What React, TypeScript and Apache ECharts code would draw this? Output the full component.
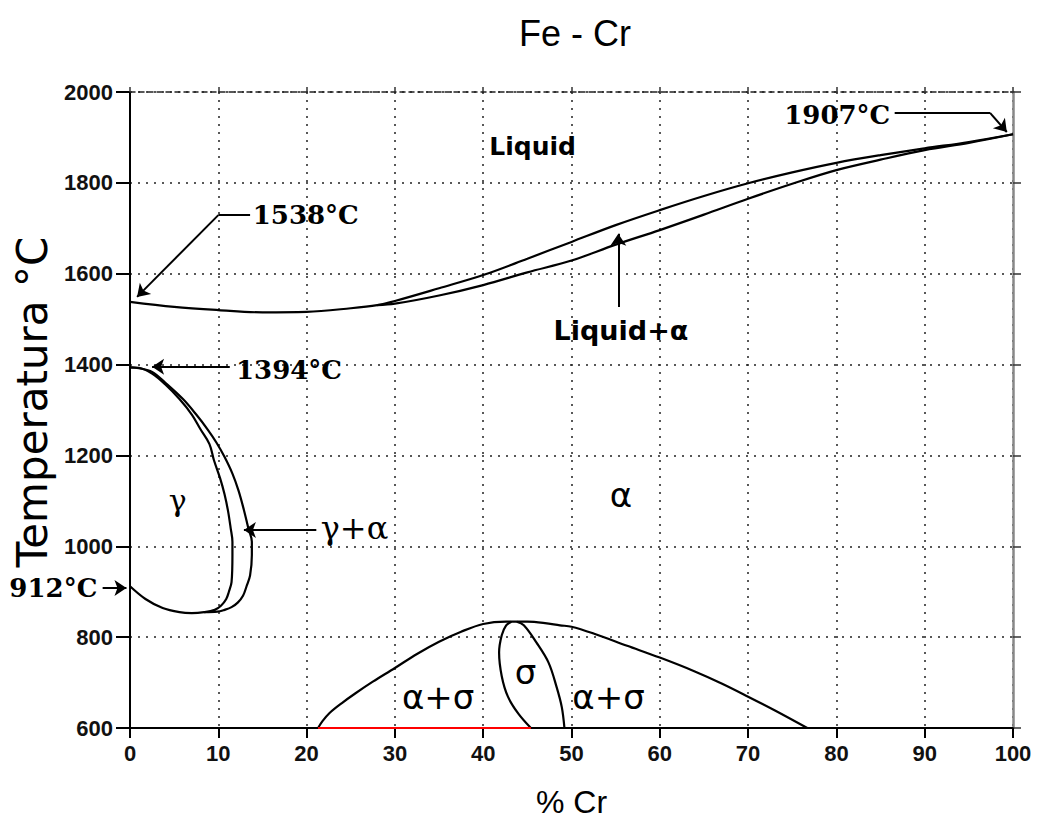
import React, { useEffect, useRef } from "react";
import * as echarts from "echarts";

// ---- axis ticks ----
const xTicks = { min: 0, max: 100, interval: 10 };
const yTicks = { min: 600, max: 2000, interval: 200 };

// ---- liquidus (upper) ----
const liquidusX = [0, 5, 10, 15, 20, 25, 28, 30, 35, 40, 45, 50, 55, 60, 65, 70, 75, 80, 85, 90, 95, 100];
const liquidusT = [1538, 1527, 1520, 1515, 1516, 1524, 1531, 1540, 1568, 1597, 1633, 1670, 1707, 1740, 1771, 1799, 1823, 1844, 1861, 1876, 1890, 1907];

// ---- solidus (lower) ----
const solidusX = [28, 30, 35, 40, 45, 50, 55, 60, 65, 70, 75, 80, 85, 90, 95, 100];
const solidusT = [1531, 1534, 1552, 1575, 1603, 1629, 1664, 1696, 1730, 1765, 1798, 1828, 1851, 1872, 1888, 1907];

// ---- gamma loop: inner boundary (gamma / gamma+alpha) incl. lower branch ----
const gammaInnerX = [0, 1, 2.5, 4, 5.6, 7, 8, 9, 9.5, 10.2, 10.7, 11.1, 11.4, 11.6, 11.6, 11.5, 11.2, 10.9, 10.3, 9.6, 8.4, 7, 5.6, 3.7, 1.75, 0];
const gammaInnerT = [1394, 1393, 1380, 1356, 1324, 1290, 1257, 1225, 1190, 1150, 1115, 1078, 1040, 1010, 981, 921, 900, 884, 869, 860, 855, 853, 855, 864, 884, 912];

// ---- gamma loop: outer boundary (gamma+alpha / alpha) ----
const gammaOuterX = [0, 1, 2.5, 4, 6, 7.5, 8.8, 9.8, 10.7, 11.6, 12.3, 12.9, 13.4, 13.8, 13.8, 13.6, 13.2, 12.8, 12.2, 11.5, 10.7, 9.9, 8.4];
const gammaOuterT = [1394, 1392, 1384, 1360, 1324, 1290, 1257, 1228, 1197, 1160, 1122, 1080, 1040, 1010, 981, 936, 912, 891, 876, 866, 860, 856, 855];

// ---- sigma dome ----
const domeX = [21.3, 21.8, 22.6, 24, 25.5, 27.5, 30, 32.5, 35, 37.5, 40, 42.6, 45, 47, 48.7, 50, 52.5, 56.3, 60, 63.9, 67, 70, 73.1, 76.7];
const domeT = [600, 615, 633, 655, 676, 702, 732, 763, 790, 812, 829, 834, 834, 831, 826, 823, 808, 781, 755, 725, 698, 669, 638, 600];

const sigmaLeftX = [43.2, 42.6, 42.1, 41.8, 42.1, 42.8, 44.0, 45.4];
const sigmaLeftT = [834, 826, 804, 766, 714, 669, 631, 600];
const sigmaRightX = [43.8, 44.6, 46.0, 47.4, 48.3, 48.9, 49.2];
const sigmaRightT = [834, 826, 789, 744, 691, 646, 600];

// ---- red base line ----
const redLineX = [21.3, 45.4];
const redLineT = [600, 600];

// ---- annotation arrows (start -> tip) ----
const arrowStarts = [[10.0, 1729], [11.3, 1395], [-3.1, 908], [21.1, 1036], [97.4, 1954], [55.3, 1527]];
const arrowTips = [[0.8, 1549], [2.5, 1395], [-0.4, 908], [12.9, 1036], [99.3, 1912], [55.3, 1688]];
// leader segments without arrowheads
const leaderStarts = [[13.6, 1729], [86.6, 1954]];
const leaderEnds = [[10.0, 1729], [97.4, 1954]];

// ---- texts ----
const tempTexts = ["1538°C", "1394°C", "912°C", "1907°C"];
const tempPos = [[13.9, 1729], [12.0, 1389], [-3.7, 908], [86.1, 1950]];
const tempAlign = ["left", "left", "right", "right"];

const phaseTexts = ["Liquid", "Liquid+α", "γ", "γ+α", "α", "α+σ", "σ", "α+σ"];
const phasePos = [[45.6, 1879], [55.6, 1476], [5.4, 1100], [21.6, 1040], [55.6, 1113], [34.9, 668], [44.8, 724], [54.2, 668]];

const toPairs = (xs: number[], ys: number[]) => xs.map((x, i) => [x, ys[i]]);

const curve = (name: string, xs: number[], ys: number[], color = "#000", smooth: number | boolean = 0.35) => ({
  name,
  type: "line",
  data: toPairs(xs, ys),
  smooth,
  showSymbol: false,
  symbol: "none",
  lineStyle: { color, width: 2.2 },
  silent: true,
  z: 5,
});

export default function App() {
  const ref = useRef<HTMLDivElement>(null);

  useEffect(() => {
    document.body.style.margin = "0";
    if (!ref.current) return;
    const chart = echarts.init(ref.current, undefined, { renderer: "svg" });

    const serifBold = { fontFamily: "DejaVu Serif", fontWeight: "bold", fontSize: 26, color: "#000" };

    const phaseStyles: any[] = [
      { fontFamily: "DejaVu Sans", fontWeight: "bold", fontSize: 25 },
      { fontFamily: "DejaVu Sans", fontWeight: "bold", fontSize: 27 },
      { fontFamily: "DejaVu Serif", fontWeight: "normal", fontSize: 30 },
      { fontFamily: "DejaVu Serif", fontWeight: "normal", fontSize: 32 },
      { fontFamily: "DejaVu Sans", fontWeight: "normal", fontSize: 34 },
      { fontFamily: "DejaVu Sans", fontWeight: "normal", fontSize: 34 },
      { fontFamily: "DejaVu Sans", fontWeight: "normal", fontSize: 34 },
      { fontFamily: "DejaVu Sans", fontWeight: "normal", fontSize: 34 },
    ];

    const textData: any[] = [];
    tempTexts.forEach((t, i) => {
      textData.push({
        value: tempPos[i],
        label: { show: true, position: [0, 0], formatter: t, align: tempAlign[i], verticalAlign: "middle", textBorderWidth: 0, opacity: 1, ...serifBold },
      });
    });
    phaseTexts.forEach((t, i) => {
      textData.push({
        value: phasePos[i],
        label: {
          show: true,
          position: [0, 0],
          formatter: t,
          align: i === 3 ? "left" : "center",
          verticalAlign: "middle",
          color: "#000",
          opacity: 1,
          textBorderWidth: 0,
          ...phaseStyles[i],
        },
      });
    });

    const option: any = {
      animation: false,
      backgroundColor: "#fff",
      title: {
        text: "Fe - Cr",
        left: 514,
        top: 10,
        textStyle: { fontFamily: "Liberation Sans", fontWeight: "normal", fontSize: 36, color: "#000" },
      },
      grid: { left: 130, right: 30, top: 92, bottom: 102, containLabel: false },
      xAxis: [
        {
          type: "value",
          min: xTicks.min,
          max: xTicks.max,
          interval: xTicks.interval,
          name: "% Cr",
          nameLocation: "middle",
          nameGap: 58,
          nameTextStyle: { fontFamily: "Liberation Sans", fontSize: 32, color: "#000" },
          axisLine: { show: true, onZero: false, lineStyle: { color: "#000", width: 2 } },
          axisTick: { show: true, inside: false, length: 10, lineStyle: { color: "#000", width: 2 } },
          axisLabel: { margin: 14, fontFamily: "Liberation Sans", fontWeight: "bold", fontSize: 22, color: "#111", formatter: (v: number) => String(v) },
          splitLine: { show: true, lineStyle: { color: "#222", type: [2, 6], width: 1.5 } },
        },
        {
          type: "value",
          position: "top",
          min: xTicks.min,
          max: xTicks.max,
          interval: xTicks.interval,
          axisLine: { show: true, onZero: false, lineStyle: { color: "#222", width: 1.5, type: [5, 4] } },
          axisTick: { show: true, inside: false, length: 5, lineStyle: { color: "#333", width: 1.5 } },
          axisLabel: { show: false },
          splitLine: { show: false },
        },
      ],
      yAxis: [
        {
          type: "value",
          min: yTicks.min,
          max: yTicks.max,
          interval: yTicks.interval,
          name: "Temperatura °C",
          nameLocation: "middle",
          nameRotate: 90,
          nameGap: 75,
          nameTextStyle: { fontFamily: "DejaVu Sans", fontSize: 42, color: "#000", padding: [0, 0, 0, 16] },
          axisLine: { show: true, onZero: false, lineStyle: { color: "#000", width: 2 } },
          axisTick: { show: true, inside: false, length: 14, lineStyle: { color: "#000", width: 2 } },
          axisLabel: { margin: 17, fontFamily: "Liberation Sans", fontWeight: "bold", fontSize: 22, color: "#111", formatter: (v: number) => String(v) },
          splitLine: { show: true, lineStyle: { color: "#222", type: [2, 6], width: 1.5 } },
        },
        {
          type: "value",
          position: "right",
          min: yTicks.min,
          max: yTicks.max,
          interval: yTicks.interval,
          axisLine: { show: true, onZero: false, lineStyle: { color: "#888", width: 2.5 } },
          axisTick: { show: true, inside: false, length: 8, lineStyle: { color: "#333", width: 1.5 } },
          axisLabel: { show: false },
          splitLine: { show: false },
        },
      ],
      series: [
        curve("liquidus", liquidusX, liquidusT),
        curve("solidus", solidusX, solidusT),
        curve("gamma inner", gammaInnerX, gammaInnerT),
        curve("gamma outer", gammaOuterX, gammaOuterT),
        curve("sigma dome", domeX, domeT),
        curve("sigma left", sigmaLeftX, sigmaLeftT),
        curve("sigma right", sigmaRightX, sigmaRightT),
        { ...curve("base", redLineX, redLineT, "#ff0000", false), z: 10 },
        {
          name: "arrows",
          type: "lines",
          coordinateSystem: "cartesian2d",
          clip: false,
          symbol: ["none", "arrow"],
          symbolSize: [0, 12],
          lineStyle: { color: "#000", width: 2, opacity: 1, curveness: 0 },
          data: arrowStarts.map((s, i) => ({ coords: [s, arrowTips[i]] })),
          silent: true,
          z: 6,
        },
        {
          name: "leaders",
          type: "lines",
          coordinateSystem: "cartesian2d",
          clip: false,
          symbol: ["none", "none"],
          lineStyle: { color: "#000", width: 2, opacity: 1, curveness: 0 },
          data: leaderStarts.map((s, i) => ({ coords: [s, leaderEnds[i]] })),
          silent: true,
          z: 6,
        },
        {
          name: "texts",
          type: "scatter",
          symbolSize: 0,
          clip: false,
          silent: true,
          itemStyle: { opacity: 1 },
          data: textData,
          z: 8,
        },
      ],
    };

    chart.setOption(option);
    return () => chart.dispose();
  }, []);

  return <div ref={ref} style={{ width: 1043, height: 830 }} />;
}
